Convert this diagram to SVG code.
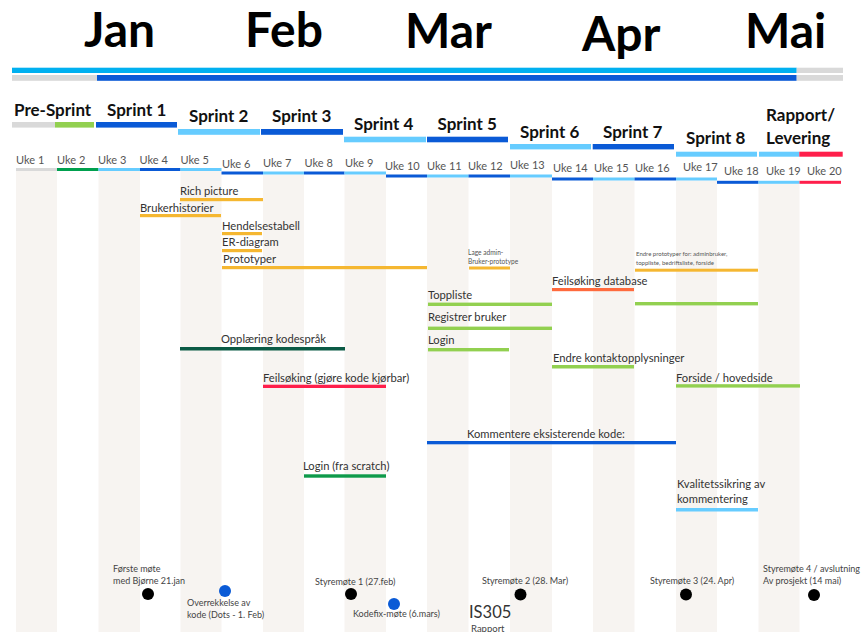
<svg xmlns="http://www.w3.org/2000/svg" width="865" height="632" viewBox="0 0 865 632">
<style>
text{font-family:Lato,"Open Sans","Liberation Sans",sans-serif;}
.month{font-size:48px;font-weight:700;fill:#000;}
.sprint{font-size:17px;font-weight:700;fill:#111;}
.uke{font-size:11px;fill:#555;}
.task{font-size:11.2px;fill:#333;}
.tiny{font-size:6.6px;fill:#555;}
.tiny2{font-size:6px;fill:#555;}
.note{font-size:9px;fill:#444;}
.stripe{fill:#f7f4f1;}
.lb{fill:#66ccff;}
.db{fill:#0a5ad6;}
.gr{fill:#d9d9d9;}
.yl{fill:#f5b731;}
.lg{fill:#92d050;}
.rd{fill:#ff1f4b;}
</style>
<rect width="865" height="632" fill="#fff"/>
<g id="stripes">
<rect class="stripe" x="16" y="171" width="41" height="461"/>
<rect class="stripe" x="98.5" y="171" width="41.5" height="461"/>
<rect class="stripe" x="180.5" y="171" width="41" height="461"/>
<rect class="stripe" x="263" y="174.5" width="41" height="458"/>
<rect class="stripe" x="344.5" y="174.5" width="41.5" height="458"/>
<rect class="stripe" x="427" y="177.5" width="41.5" height="455"/>
<rect class="stripe" x="510" y="177.5" width="42" height="455"/>
<rect class="stripe" x="593" y="180.5" width="41.5" height="452"/>
<rect class="stripe" x="676" y="180.5" width="41" height="452"/>
<rect class="stripe" x="758.5" y="184" width="41" height="448"/>
</g>
<g id="months">
<text class="month" x="84" y="47">Jan</text>
<text class="month" x="245" y="47">Feb</text>
<text class="month" x="405" y="48">Mar</text>
<text class="month" x="582" y="51">Apr</text>
<text class="month" x="745" y="48">Mai</text>
</g>
<g id="timeline">
<rect x="12" y="67.7" width="784.7" height="5.3" fill="#00b0f0"/>
<rect class="gr" x="796.7" y="67.7" width="46.3" height="5.3"/>
<rect class="gr" x="12" y="75" width="85" height="5.8"/>
<rect class="db" x="97" y="75" width="699.7" height="5.8"/>
<rect class="gr" x="796.7" y="75" width="46.3" height="5.8"/>
</g>
<g id="sprints">
<g id="pre-sprint"><text class="sprint" x="14" y="116">Pre-Sprint</text><rect class="gr" x="12" y="122" width="43" height="5.6"/><rect class="lg" x="55" y="122" width="39" height="5.6"/></g>
<g id="sprint1"><text class="sprint" x="107" y="116">Sprint 1</text><rect class="db" x="96" y="122" width="81" height="5.6"/></g>
<g id="sprint2"><text class="sprint" x="189" y="121.5">Sprint 2</text><rect class="lb" x="178" y="129" width="82" height="5.8"/></g>
<g id="sprint3"><text class="sprint" x="272" y="121.5">Sprint 3</text><rect class="db" x="261" y="129" width="82" height="5.8"/></g>
<g id="sprint4"><text class="sprint" x="354" y="130">Sprint 4</text><rect class="lb" x="344" y="136.7" width="82" height="5.6"/></g>
<g id="sprint5"><text class="sprint" x="437.5" y="130">Sprint 5</text><rect class="db" x="427" y="136.7" width="81" height="5.6"/></g>
<g id="sprint6"><text class="sprint" x="520" y="137.5">Sprint 6</text><rect class="lb" x="510" y="144" width="81" height="5.4"/></g>
<g id="sprint7"><text class="sprint" x="603" y="137.5">Sprint 7</text><rect class="db" x="592.7" y="144" width="81.3" height="5.4"/></g>
<g id="sprint8"><text class="sprint" x="686" y="144">Sprint 8</text><rect class="lb" x="676" y="151.7" width="81" height="5"/></g>
<g id="rapport"><text class="sprint" x="766" y="120.7">Rapport/</text><text class="sprint" x="766" y="144">Levering</text><rect class="lb" x="759" y="151.7" width="40.3" height="5"/><rect class="rd" x="799.3" y="151.7" width="43.4" height="5"/></g>
</g>
<g id="weeks">
<g id="uke1"><text class="uke" x="16" y="163.5">Uke 1</text><rect class="gr" x="16" y="168" width="41" height="3"/></g>
<g id="uke2"><text class="uke" x="57" y="163.5">Uke 2</text><rect x="57" y="168" width="41.5" height="3" fill="#00a04e"/></g>
<g id="uke3"><text class="uke" x="98" y="163.5">Uke 3</text><rect class="lb" x="98.5" y="168" width="41.5" height="3"/></g>
<g id="uke4"><text class="uke" x="139.5" y="163.5">Uke 4</text><rect class="db" x="140" y="168" width="40.5" height="3"/></g>
<g id="uke5"><text class="uke" x="180.5" y="163.5">Uke 5</text><rect class="lb" x="180.5" y="168" width="41" height="3"/></g>
<g id="uke6"><text class="uke" x="222" y="167.5">Uke 6</text><rect class="db" x="221.5" y="171.5" width="41.5" height="3"/></g>
<g id="uke7"><text class="uke" x="263" y="166.5">Uke 7</text><rect class="lb" x="263" y="171.5" width="41" height="3"/></g>
<g id="uke8"><text class="uke" x="304.5" y="167">Uke 8</text><rect class="db" x="304" y="171.5" width="40.5" height="3"/></g>
<g id="uke9"><text class="uke" x="345" y="166.5">Uke 9</text><rect class="lb" x="344.5" y="171.5" width="41.5" height="3"/></g>
<g id="uke10"><text class="uke" x="385" y="170">Uke 10</text><rect class="db" x="386" y="174.5" width="41" height="3"/></g>
<g id="uke11"><text class="uke" x="427" y="170">Uke 11</text><rect class="lb" x="427" y="174.5" width="41.5" height="3"/></g>
<g id="uke12"><text class="uke" x="468" y="170">Uke 12</text><rect class="db" x="468.5" y="174.5" width="41.5" height="3"/></g>
<g id="uke13"><text class="uke" x="510" y="168.5">Uke 13</text><rect class="lb" x="510" y="174.5" width="42" height="3"/></g>
<g id="uke14"><text class="uke" x="553" y="172">Uke 14</text><rect class="db" x="552" y="177.5" width="41" height="3"/></g>
<g id="uke15"><text class="uke" x="594" y="172">Uke 15</text><rect class="lb" x="593" y="177.5" width="41.5" height="3"/></g>
<g id="uke16"><text class="uke" x="635" y="172">Uke 16</text><rect class="db" x="634.5" y="177.5" width="41.5" height="3"/></g>
<g id="uke17"><text class="uke" x="683" y="171">Uke 17</text><rect class="lb" x="676" y="177.5" width="41" height="3"/></g>
<g id="uke18"><text class="uke" x="724" y="174.5">Uke 18</text><rect class="db" x="717" y="180.8" width="41.5" height="3"/></g>
<g id="uke19"><text class="uke" x="766" y="174.5">Uke 19</text><rect class="lb" x="758.5" y="180.8" width="41" height="3"/></g>
<g id="uke20"><text class="uke" x="807" y="174.5">Uke 20</text><rect class="rd" x="799.5" y="180.8" width="41.5" height="3"/></g>
</g>
<g id="tasks">
<g id="rich-picture"><text class="task" x="180" y="195">Rich picture</text><rect class="yl" x="180" y="198" width="83" height="3.2"/></g>
<g id="brukerhistorier"><text class="task" x="140" y="212">Brukerhistorier</text><rect class="yl" x="140" y="214" width="81" height="3.2"/></g>
<g id="hendelsestabell"><text class="task" x="222" y="230">Hendelsestabell</text><rect class="yl" x="222" y="232" width="40" height="3.2"/></g>
<g id="er-diagram"><text class="task" x="222" y="246">ER-diagram</text><rect class="yl" x="222" y="249" width="40" height="3.2"/></g>
<g id="prototyper"><text class="task" x="223" y="263">Prototyper</text><rect class="yl" x="222" y="266" width="205" height="3.2"/></g>
<g id="lage-admin"><text class="tiny" x="468" y="255">Lage admin-</text><text class="tiny" x="468" y="264">Bruker-prototype</text><rect class="yl" x="469" y="266.5" width="41" height="3"/></g>
<g id="endre-prototyper"><text class="tiny2" x="636" y="256">Endre prototyper for: adminbruker,</text><text class="tiny2" x="636" y="265">toppliste, bedriftsliste, forside</text><rect class="yl" x="635" y="268.7" width="123" height="3"/></g>
<g id="feilsoking-database"><text class="task" x="552" y="285">Feilsøking database</text><rect x="552" y="288" width="82" height="3.2" fill="#ff6a3d"/></g>
<g id="toppliste"><text class="task" x="428" y="299">Toppliste</text><rect class="lg" x="428" y="302.6" width="124" height="3.4"/></g>
<g id="toppliste-2"><rect class="lg" x="635" y="302" width="123" height="3.4"/></g>
<g id="registrer-bruker"><text class="task" x="428" y="321">Registrer bruker</text><rect class="lg" x="428" y="326.6" width="124" height="3.4"/></g>
<g id="login"><text class="task" x="428" y="343.5">Login</text><rect class="lg" x="428" y="348" width="81" height="3.4"/></g>
<g id="opplaering"><text class="task" x="221" y="343">Opplæring kodespråk</text><rect x="180" y="347" width="165" height="3.5" fill="#0b5a45"/></g>
<g id="endre-kontakt"><text class="task" x="553" y="362">Endre kontaktopplysninger</text><rect class="lg" x="552" y="365" width="82" height="3.5"/></g>
<g id="feilsoking-kode"><text class="task" x="263" y="382">Feilsøking (gjøre kode kjørbar)</text><rect class="rd" x="263" y="384.7" width="123" height="3.3"/></g>
<g id="forside"><text class="task" x="676" y="382">Forside / hovedside</text><rect class="lg" x="676" y="384.2" width="124" height="3.4"/></g>
<g id="kommentere"><text class="task" x="467" y="438">Kommentere eksisterende kode:</text><rect class="db" x="427" y="441" width="249" height="3.3"/></g>
<g id="login-scratch"><text class="task" x="303" y="470">Login (fra scratch)</text><rect x="304" y="474.3" width="82" height="3.4" fill="#0e9a4a"/></g>
<g id="kvalitetssikring"><text class="task" x="677" y="488">Kvalitetssikring av</text><text class="task" x="677" y="503">kommentering</text><rect class="lb" x="676" y="508" width="82" height="3.5"/></g>
</g>
<g id="milestones">
<g id="forste-mote"><text class="note" x="113" y="572">Første møte</text><text class="note" x="113" y="583.5">med Bjørne 21.jan</text><circle cx="148" cy="594" r="6" fill="#000"/></g>
<g id="overrekkelse"><circle cx="225" cy="591" r="6" fill="#0a5ad6"/><text class="note" x="187" y="606">Overrekkelse av</text><text class="note" x="187" y="618">kode (Dots - 1. Feb)</text></g>
<g id="styremote1"><text class="note" x="315" y="585">Styremøte 1 (27.feb)</text><circle cx="351" cy="594" r="6" fill="#000"/></g>
<g id="kodefix"><circle cx="394" cy="604" r="6" fill="#0a5ad6"/><text class="note" x="353" y="617">Kodefix-møte (6.mars)</text></g>
<g id="styremote2"><text class="note" x="482" y="583.5">Styremøte 2 (28. Mar)</text><circle cx="520.5" cy="594.5" r="6" fill="#000"/></g>
<g id="styremote3"><text class="note" x="650" y="583.5">Styremøte 3 (24. Apr)</text><circle cx="686" cy="594.5" r="6" fill="#000"/></g>
<g id="styremote4"><text class="note" x="763" y="572">Styremøte 4 / avslutning</text><text class="note" x="763" y="584">Av prosjekt (14 mai)</text><circle cx="814" cy="595" r="6" fill="#000"/></g>
<g id="is305"><text x="469" y="617.5" font-size="16.5" fill="#333">IS305</text><text x="471" y="631.5" font-size="9.5" fill="#444">Rapport</text></g>
</g>
</svg>
